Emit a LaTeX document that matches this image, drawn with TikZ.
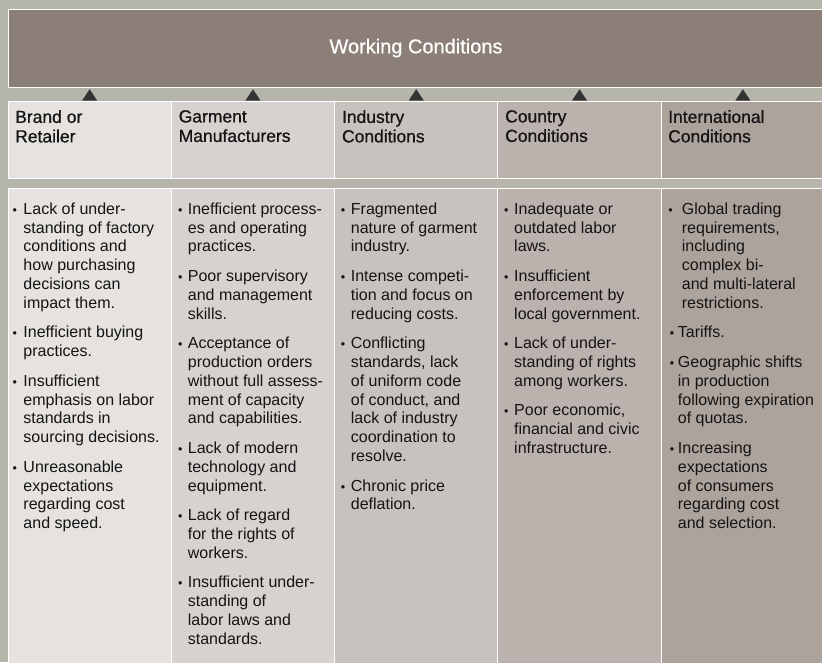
\documentclass[tikz,border=0pt]{standalone}
\usepackage{fontspec}
\setmainfont{Liberation Sans}
\newfontfamily\hdfont[FakeBold=0.7]{Liberation Sans}
\usetikzlibrary{calc}
\definecolor{bg}{HTML}{B5B5AB}
\definecolor{banner}{HTML}{8C7F78}
\definecolor{ca}{HTML}{E5E2DF}
\definecolor{cb}{HTML}{D7D2CF}
\definecolor{cc}{HTML}{C8C2BE}
\definecolor{cd}{HTML}{BBB1AD}
\definecolor{ce}{HTML}{ADA39D}
\definecolor{txt}{HTML}{141414}
\definecolor{tri}{HTML}{333333}
\newcommand\bulmark{{\fontsize{12.5pt}{12.5pt}\selectfont\textbullet}}
\newcommand\itm[3]{\par\noindent\hangindent=#2pt\hangafter=1\relax\makebox[#2pt][l]{\rule{0pt}{12pt}\hspace*{#1pt}\bulmark}#3\par}
\newcommand\gap{\par\vspace{10.8pt}}
\newcommand\colbox[1]{\parbox[t]{220pt}{#1}}
\tikzset{
  cell/.style={draw=white, line width=1pt, anchor=north west, inner sep=0pt, minimum width=163.3pt},
  hcell/.style={cell, minimum height=77.5pt},
  bcell/.style={cell, minimum height=490pt},
  htext/.style={anchor=north west, inner sep=0pt, align=left, text=txt, font=\hdfont\fontsize{17.5pt}{19.5pt}\selectfont},
  btext/.style={anchor=north west, inner sep=0pt, text=txt, font=\fontsize{16pt}{18.8pt}\selectfont},
  tip/.style={fill=tri}
}
\begin{document}
\begin{tikzpicture}[x=1pt,y=-1pt]
\useasboundingbox (0,0) rectangle (822,662);
\clip (0,0) rectangle (822,662);
\fill[bg] (0,0) rectangle (822,662);
% banner
\node[draw=white, line width=1.2pt, fill=banner, anchor=north west, inner sep=0pt, minimum width=840pt, minimum height=78pt] (ban) at (7.5,8.5) {};
\node[text=white, font=\hdfont\fontsize{20pt}{24pt}\selectfont, inner sep=0pt, anchor=base] (bant) at (416,53.3) {Working Conditions};
% header cells
\node[hcell, fill=ca] (h1) at (7.5,100.5) {};
\node[hcell, fill=cb] (h2) at (170.8,100.5) {};
\node[hcell, fill=cc] (h3) at (334.1,100.5) {};
\node[hcell, fill=cd] (h4) at (497.4,100.5) {};
\node[hcell, fill=ce] (h5) at (660.7,100.5) {};
% body cells
\node[bcell, fill=ca] (b1) at (7.5,188.3) {};
\node[bcell, fill=cb] (b2) at (170.8,188.3) {};
\node[bcell, fill=cc] (b3) at (334.1,188.3) {};
\node[bcell, fill=cd] (b4) at (497.4,188.3) {};
\node[bcell, fill=ce] (b5) at (660.7,188.3) {};
% arrow heads from each header up to the banner
\foreach \h in {h1,h2,h3,h4,h5}{
  \fill[tip] ($(\h.north)+(-7.5,0)$) -- ($(\h.north)+(7.5,0)$) -- ($(\h.north |- ban.south)+(0,1.5)$) -- cycle;
}
% header texts
\node[htext] (t1) at (15,110) {Brand or\\Retailer};
\node[htext] (t2) at (178.5,110) {Garment\\Manufacturers};
\node[htext] (t3) at (341.8,110) {Industry\\Conditions};
\node[htext] (t4) at (505,110) {Country\\Conditions};
\node[htext] (t5) at (668,110) {International\\Conditions};
% body texts
\node[btext] (x1) at (8,202) {\colbox{%
\itm{4.5}{15.3}{Lack of under-\\standing of factory\\conditions and\\how purchasing\\decisions can\\impact them.}\gap
\itm{4.5}{15.3}{Inefficient buying\\practices.}\gap
\itm{4.5}{15.3}{Insufficient\\emphasis on labor\\standards in\\sourcing decisions.}\gap
\itm{4.5}{15.3}{Unreasonable\\expectations\\regarding cost\\and speed.}}};
\node[btext] (x2) at (171.3,202) {\colbox{%
\itm{6.5}{16.4}{Inefficient process-\\es and operating\\practices.}\gap
\itm{6.5}{16.4}{Poor supervisory\\and management\\skills.}\gap
\itm{6.5}{16.4}{Acceptance of\\production orders\\without full assess-\\ment of capacity\\and capabilities.}\gap
\itm{6.5}{16.4}{Lack of modern\\technology and\\equipment.}\gap
\itm{6.5}{16.4}{Lack of regard\\for the rights of\\workers.}\gap
\itm{6.5}{16.4}{Insufficient under-\\standing of\\labor laws and\\standards.}}};
\node[btext] (x3) at (334.6,202) {\colbox{%
\itm{6}{16.1}{Fragmented\\nature of garment\\industry.}\gap
\itm{6}{16.1}{Intense competi-\\tion and focus on\\reducing costs.}\gap
\itm{6}{16.1}{Conflicting\\standards, lack\\of uniform code\\of conduct, and\\lack of industry\\coordination to\\resolve.}\gap
\itm{6}{16.1}{Chronic price\\deflation.}}};
\node[btext] (x4) at (497.9,202) {\colbox{%
\itm{6}{16.1}{Inadequate or\\outdated labor\\laws.}\gap
\itm{6}{16.1}{Insufficient\\enforcement by\\local government.}\gap
\itm{6}{16.1}{Lack of under-\\standing of rights\\among workers.}\gap
\itm{6}{16.1}{Poor economic,\\financial and civic\\infrastructure.}}};
\node[btext] (x5) at (661.2,202) {\colbox{%
\itm{7}{20.5}{Global trading\\requirements,\\including\\complex bi-\\and multi-lateral\\restrictions.}\gap
\itm{8.5}{16.5}{Tariffs.}\gap
\itm{8.5}{16.5}{Geographic shifts\\in production\\following expiration\\of quotas.}\gap
\itm{8.5}{16.5}{Increasing\\expectations\\of consumers\\regarding cost\\and selection.}}};
\end{tikzpicture}
\end{document}
